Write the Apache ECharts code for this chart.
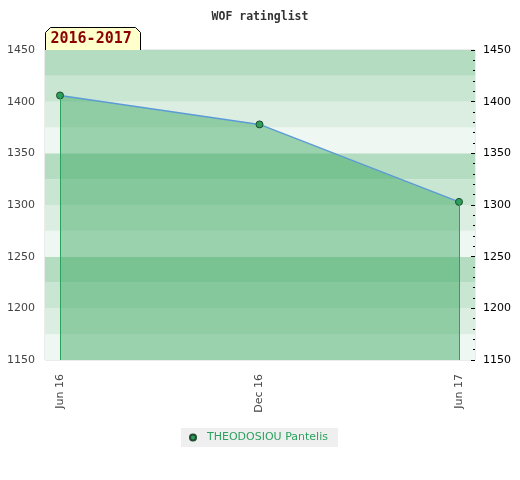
<!DOCTYPE html>
<html><head><meta charset="utf-8">
<script src="https://cdn.jsdelivr.net/npm/echarts@6/dist/echarts.min.js"></script>
<style>html,body{margin:0;padding:0;background:#fff}#c{width:520px;height:480px}</style>
</head><body><div id="c"></div>
<script>
var categories = ['Jun 16', 'Dec 16', 'Jun 17'];
var ratings = [1406, 1378, 1303];
var seriesName = 'THEODOSIOU Pantelis';
var periodLabel = '2016-2017';
var yMin = 1150, yMax = 1450;

var chart = echarts.init(document.getElementById('c'));
var last = categories.length - 1;
chart.setOption({
  animation: false,
  title: {
    text: 'WOF ratinglist', left: 'center', top: 6,
    textStyle: {fontFamily: 'DejaVu Sans Mono', fontSize: 11.5, fontWeight: 'bold', color: '#333'}
  },
  grid: [
    {left: 45, top: 50, width: 430, height: 310, show: true, borderColor: '#d9d9d9', borderWidth: 1, backgroundColor: 'transparent'},
    {left: 60, top: 50, width: 399, height: 310}
  ],
  xAxis: [
    {gridIndex: 0, type: 'value', show: false, min: 0, max: 1},
    {gridIndex: 1, type: 'category', data: categories, boundaryGap: false,
     axisLine: {show: false}, axisTick: {show: false},
     axisLabel: {rotate: 90, margin: 14, color: '#444', fontFamily: 'DejaVu Sans', fontSize: 11}}
  ],
  yAxis: [
    {gridIndex: 0, type: 'value', min: yMin, max: yMax, interval: 25, position: 'left',
     axisLine: {show: false}, axisTick: {show: false}, splitLine: {show: false},
     splitArea: {show: true, areaStyle: {color: ['#eef7f1', '#dceee2', '#c8e6d2', '#b3dcc1']}},
     axisLabel: {margin: 10, color: '#444', fontFamily: 'DejaVu Sans', fontSize: 11,
       formatter: function (v) { return v % 50 === 0 ? String(v) : ''; }}},
    {gridIndex: 0, type: 'value', min: yMin, max: yMax, interval: 50, position: 'right',
     axisLine: {show: false}, splitLine: {show: false},
     axisTick: {show: true, inside: true, length: 4, lineStyle: {color: '#000'}},
     minorTick: {show: true, splitNumber: 5, length: 2, lineStyle: {color: '#000'}},
     axisLabel: {margin: 8, color: '#000', fontFamily: 'DejaVu Sans', fontSize: 11,
       formatter: function (v) { return String(v); }}},
    {gridIndex: 1, type: 'value', min: yMin, max: yMax, show: false}
  ],
  legend: {
    bottom: 33, left: 181, backgroundColor: '#efefef', padding: [4, 10, 4, 8],
    icon: 'circle', itemWidth: 18, itemHeight: 6, itemGap: 10,
    textStyle: {color: '#2ca25f', fontFamily: 'DejaVu Sans', fontSize: 11},
    data: [seriesName]
  },
  graphic: [{
    type: 'group', left: 45, top: 27,
    children: [
      {type: 'polygon', shape: {points: [[0, 23], [0, 5], [5, 0], [90, 0], [95, 5], [95, 23]]},
       style: {fill: '#ffffcc', stroke: '#000', lineWidth: 1}},
      {type: 'text', x: 5, y: 4, style: {text: periodLabel, fill: '#8b0000', font: 'bold 15px "DejaVu Sans Mono"'}}
    ]
  }],
  series: [{
    name: seriesName, type: 'line', xAxisIndex: 1, yAxisIndex: 2,
    data: ratings,
    symbol: 'circle', symbolSize: 7,
    itemStyle: {color: '#2e9e5b', borderColor: '#1d4d2e', borderWidth: 1},
    lineStyle: {color: '#5b9bd5', width: 1.5},
    areaStyle: {color: 'rgba(50,165,90,0.45)', opacity: 1, origin: 'start'},
    markLine: {
      silent: true, symbol: 'none', label: {show: false},
      lineStyle: {color: '#2ca25f', width: 1, type: 'solid'},
      data: [
        [{coord: [categories[0], ratings[0]]}, {coord: [categories[0], yMin]}],
        [{coord: [categories[last], ratings[last]]}, {coord: [categories[last], yMin]}]
      ]
    }
  }]
});
</script></body></html>
